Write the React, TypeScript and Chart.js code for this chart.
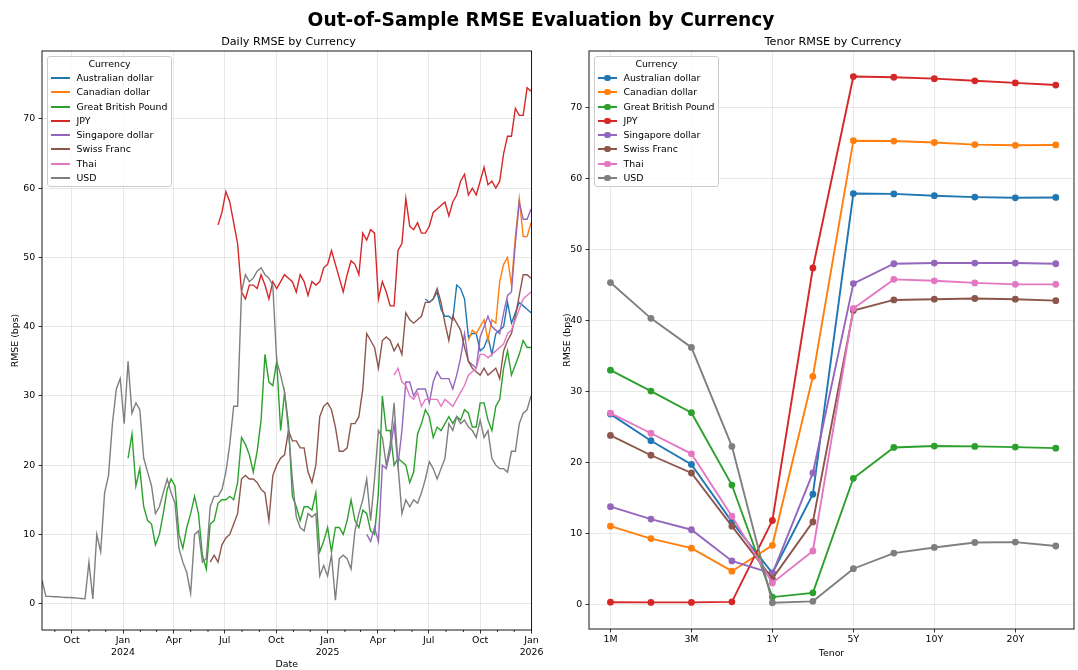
import React, { useEffect, useRef } from 'react';
import { Chart, registerables } from 'chart.js';

Chart.register(...registerables);

const FONT = '"DejaVu Sans", "Liberation Sans", sans-serif';

// ---------- shared ----------
const currencies = [
  'Australian dollar',
  'Canadian dollar',
  'Great British Pound',
  'JPY',
  'Singapore dollar',
  'Swiss Franc',
  'Thai',
  'USD',
];
const colors = ['#1f77b4', '#ff7f0e', '#2ca02c', '#d62728', '#9467bd', '#8c564b', '#e377c2', '#7f7f7f'];

// ---------- left panel: weekly samples of daily RMSE (bps) ----------
const weekStart = '2023-08-09'; // first sample, one sample every 7 days
const xStart = '2023-08-09';
const xEnd = '2026-01-01';
const quarterTicks = ['2023-10-01', '2024-01-01', '2024-04-01', '2024-07-01', '2024-10-01', '2025-01-01', '2025-04-01', '2025-07-01', '2025-10-01', '2026-01-01'];
const minorTicks = ['2023-09-01', '2023-11-01', '2023-12-01', '2024-02-01', '2024-03-01', '2024-05-01', '2024-06-01', '2024-08-01', '2024-09-01', '2024-11-01', '2024-12-01', '2025-02-01', '2025-03-01', '2025-05-01', '2025-06-01', '2025-08-01', '2025-09-01', '2025-11-01', '2025-12-01'];
const monthNames = ['Jan', 'Feb', 'Mar', 'Apr', 'May', 'Jun', 'Jul', 'Aug', 'Sep', 'Oct', 'Nov', 'Dec'];
const dailyYTicks = [0, 10, 20, 30, 40, 50, 60, 70];

const nulls = (n: number) => new Array(n).fill(null);

const audDaily = [...nulls(98),
  44, 43.5, 44, 45, 42.5, 41.5, 41.5, 41, 46, 45.5, 44, 38.5,
  39, 39, 36.5, 37, 38.5, 36, 39, 39.5, 40, 43.5,
  40.5, 42, 43.5, 43, 42.5, 42];
const cadDaily = [...nulls(109),
  38, 39.5, 39, 40, 41, 38, 41, 40.5, 46.5, 49, 50,
  46, 53, 58.5, 53, 53, 55];
const gbpDaily = [...nulls(22),
  21, 24.5, 17, 19.5, 14, 12, 11.5, 8.5,
  10, 13, 16.5, 18, 17, 10, 8, 11, 13, 15.5,
  13, 7, 5, 11.5, 12, 14.5, 15, 15, 15.5, 15,
  17.5, 24, 23, 21.5, 19, 22, 26.5, 36, 32, 31.5,
  35, 25, 30.5, 26, 15.5, 14, 12, 14, 14, 13.5,
  16, 7.5, 9, 11, 7.5, 11, 11, 10, 12, 15,
  12, 11, 13.5, 13, 10.5, 10, 16, 30, 25, 25,
  20, 21, 20.5, 20, 17.5, 19, 24.5, 26, 28, 27,
  24, 25.5, 25, 26, 27, 26, 27, 26.5, 28, 27.5,
  25.5, 25.5, 29, 29, 26.5, 25, 28.5, 29.5, 34, 36.5,
  33, 34.5, 36, 38, 37, 37];
const jpyDaily = [...nulls(45),
  54.7, 56.5, 59.5, 58, 55, 52, 45, 44, 46, 46, 45.5, 47.5, 46, 44, 46.5,
  45.5, 46.5, 47.5, 47, 46.5, 45, 47.5, 46.5, 44.5, 46.5,
  46, 46.5, 48.5, 49, 51, 49, 47, 45, 47.5, 49.5,
  49, 47.5, 53.5, 52.5, 54, 53.5, 44, 46.5, 45, 43,
  43, 51, 52, 58.5, 54.5, 54, 55, 53.5, 53.5, 54.5,
  56.5, 57, 57.5, 58, 56, 58, 59, 61, 62, 59,
  60, 59, 61, 63, 60.5, 61, 60, 61, 65, 67.5,
  67.5, 71.5, 70.5, 70.5, 74.5, 74];
const sgdDaily = [...nulls(83),
  10, 9, 11, 9, 20, 19.5, 22,
  26, 20, 25, 32, 32, 30, 31, 31, 31, 29,
  32, 33.5, 32.5, 32.5, 32.5, 31, 33, 35.5, 39, 35,
  34.5, 34, 38.5, 40, 41.5, 40, 39.5, 39, 42, 44.5,
  45, 52, 58, 55.5, 55.5, 57];
const chfDaily = [...nulls(43),
  6, 7, 6, 8.5, 9.5, 10, 11.5,
  13, 18, 18.5, 18, 18, 17.5, 16.5, 16, 12, 18.5,
  20, 21, 21.5, 25, 23.5, 23.5, 22.5, 22.5, 19, 17.5,
  20, 27, 28.5, 29, 28, 25.5, 22, 22, 22.5, 26,
  26, 27, 31, 39, 38, 37, 34, 38, 38.5, 38,
  36.5, 37.5, 36, 42, 41, 40.5, 41, 41.5, 43.5, 43.5,
  44, 45.5, 43.5, 40.5, 38, 41.5, 40.5, 39.5, 37, 35,
  34, 33.5, 33, 34, 33, 33.5, 34, 32.5, 36.5, 38,
  39, 41.5, 44.5, 47.5, 47.5, 47];
const thbDaily = [...nulls(90),
  33, 34, 32, 31.5, 30, 29.5, 30.5, 28.5, 29.5, 29.5,
  29.5, 29.5, 28.5, 29.5, 29, 28.5, 29.5, 30.5, 31.5, 33,
  33.5, 34, 36, 36, 35.5, 36, 36.5, 37, 37.5, 39,
  39.5, 41, 42.5, 44, 44.5, 45];
const usdDaily = [
  3.4, 1.05, 1.05, 1.0, 1.0, 0.95, 0.9, 0.9, 0.85, 0.8,
  0.75, 0.7, 6.0, 0.7, 10, 7.5, 16, 18.5, 26, 31,
  32.5, 26, 35, 27.5, 29, 28, 21, 19, 17, 13,
  14, 16, 18, 16, 14.5, 8, 6, 4.5, 1.5, 10,
  10.5, 6, 6.5, 14, 15.5, 15.5, 16.5, 19, 23, 28.5,
  28.5, 45, 47.5, 46.5, 47, 48, 48.5, 47.5, 47, 46,
  35, 33, 30.5, 25, 18, 12.5, 11, 10.5, 13, 12.5,
  13, 4, 5.5, 4, 7, 0.5, 6.5, 7, 6.5, 5,
  10.5, 13, 15, 18, 12, 18, 25, 24, 20, 23,
  29, 20, 13, 15, 14, 15, 14.5, 16, 18, 20.5,
  19.5, 18, 19.5, 21, 26, 25, 27, 26, 26.5, 25.5,
  25, 24, 26.5, 24, 25, 21, 20, 19.5, 19.5, 19,
  22, 22, 26, 27.5, 28, 30];

const dailySeries = [audDaily, cadDaily, gbpDaily, jpyDaily, sgdDaily, chfDaily, thbDaily, usdDaily];

// ---------- right panel: RMSE by tenor (bps) ----------
const tenors = ['1M', '2M', '3M', '6M', '1Y', '2Y', '5Y', '7Y', '10Y', '15Y', '20Y', '30Y'];
const tenorTickIdx = [0, 2, 4, 6, 8, 10];
const tenorYTicks = [0, 10, 20, 30, 40, 50, 60, 70];
const audTenor = [26.8, 23.05, 19.7, 11.6, 4.4, 15.5, 57.9, 57.85, 57.6, 57.4, 57.3, 57.35];
const cadTenor = [11.0, 9.25, 7.9, 4.65, 8.3, 32.1, 65.35, 65.3, 65.1, 64.8, 64.7, 64.75];
const gbpTenor = [33.0, 30.05, 27.0, 16.8, 1.0, 1.6, 17.75, 22.1, 22.3, 22.25, 22.15, 22.0];
const jpyTenor = [0.28, 0.25, 0.25, 0.33, 11.8, 47.4, 74.4, 74.3, 74.1, 73.8, 73.5, 73.2];
const sgdTenor = [13.75, 12.0, 10.5, 6.1, 4.3, 18.5, 45.2, 48.0, 48.1, 48.1, 48.1, 48.0];
const chfTenor = [23.8, 21.0, 18.5, 11.0, 3.6, 11.6, 41.4, 42.9, 43.0, 43.1, 43.0, 42.8];
const thbTenor = [26.95, 24.1, 21.2, 12.4, 3.0, 7.5, 41.7, 45.8, 45.6, 45.3, 45.1, 45.1];
const usdTenor = [45.35, 40.3, 36.2, 22.25, 0.2, 0.4, 5.0, 7.2, 8.0, 8.7, 8.75, 8.2];
const tenorSeries = [audTenor, cadTenor, gbpTenor, jpyTenor, sgdTenor, chfTenor, thbTenor, usdTenor];

// ---------- helpers ----------
const toDay = (s: string) => Date.UTC(+s.slice(0, 4), +s.slice(5, 7) - 1, +s.slice(8, 10)) / 86400000;
const quarterLabel = (s: string) => {
  const m = +s.slice(5, 7) - 1;
  return m === 0 ? [monthNames[m], s.slice(0, 4)] : monthNames[m];
};

const TICK_FONT = { family: FONT, size: 9.4, lineHeight: 1.27 };
const GRID = 'rgba(0,0,0,0.085)';
const INK = '#000';

const framePlugin = {
  id: 'frame',
  afterDatasetsDraw(chart: any) {
    const { ctx, chartArea: a } = chart;
    ctx.save();
    ctx.strokeStyle = INK;
    ctx.lineWidth = 0.9;
    ctx.strokeRect(a.left, a.top, a.right - a.left, a.bottom - a.top);
    ctx.restore();
  },
};

const minorTickPlugin = {
  id: 'minorTicks',
  afterDraw(chart: any) {
    const { ctx, chartArea: a } = chart;
    const xs = chart.scales.x;
    ctx.save();
    ctx.strokeStyle = INK;
    ctx.lineWidth = 0.8;
    minorTicks.forEach((d) => {
      const px = xs.getPixelForValue(toDay(d));
      ctx.beginPath();
      ctx.moveTo(px, a.bottom);
      ctx.lineTo(px, a.bottom + 2);
      ctx.stroke();
    });
    ctx.restore();
  },
};

function leftConfig(): any {
  const d0 = toDay(weekStart);
  return {
    type: 'line',
    data: {
      datasets: dailySeries.map((vals, i) => ({
        label: currencies[i],
        data: vals.map((v, k) => ({ x: d0 + 7 * k, y: v })),
        borderColor: colors[i],
        backgroundColor: colors[i],
        borderWidth: 1.4,
        pointRadius: 0,
        tension: 0,
        spanGaps: false,
        order: 7 - i,
      })),
    },
    options: {
      animation: false,
      responsive: false,
      devicePixelRatio: 1,
      layout: { padding: { left: 0, right: 10, top: 51, bottom: 0 } },
      plugins: { legend: { display: false }, tooltip: { enabled: false } },
      scales: {
        x: {
          type: 'linear',
          min: toDay(xStart),
          max: toDay(xEnd),
          afterBuildTicks: (s: any) => {
            s.ticks = quarterTicks.map((d) => ({ value: toDay(d) }));
          },
          afterFit: (s: any) => {
            s.height = 40;
          },
          ticks: {
            autoSkip: false,
            maxRotation: 0,
            padding: 1.5,
            color: INK,
            font: TICK_FONT,
            callback: (v: number) => {
              const d = quarterTicks.find((q) => toDay(q) === v);
              return d ? quarterLabel(d) : '';
            },
          },
          grid: { color: GRID, lineWidth: 1, tickColor: INK, tickLength: 3.5, tickWidth: 0.8 },
          border: { display: false },
          title: { display: true, text: 'Date', color: INK, font: { family: FONT, size: 9.4, lineHeight: 1.2 }, padding: { top: 0, bottom: 0 } },
        },
        y: {
          min: -3.8,
          max: 79.8,
          afterBuildTicks: (s: any) => {
            s.ticks = dailyYTicks.map((v) => ({ value: v }));
          },
          afterFit: (s: any) => {
            s.width = 42;
          },
          ticks: { padding: 3.2, color: INK, font: TICK_FONT },
          grid: { color: GRID, lineWidth: 1, tickColor: INK, tickLength: 3.5, tickWidth: 0.8 },
          border: { display: false },
          title: { display: true, text: 'RMSE (bps)', color: INK, font: { family: FONT, size: 9.4, lineHeight: 1.2 }, padding: { top: 9.5, bottom: 0 } },
        },
      },
    },
    plugins: [framePlugin, minorTickPlugin],
  };
}

function rightConfig(): any {
  return {
    type: 'line',
    data: {
      datasets: tenorSeries.map((vals, i) => ({
        label: currencies[i],
        data: vals.map((v, k) => ({ x: k, y: v })),
        borderColor: colors[i],
        backgroundColor: colors[i],
        pointBackgroundColor: colors[i],
        pointBorderColor: colors[i],
        borderWidth: 1.9,
        pointRadius: 3.4,
        pointBorderWidth: 0,
        tension: 0,
        order: 7 - i,
      })),
    },
    options: {
      animation: false,
      responsive: false,
      devicePixelRatio: 1,
      layout: { padding: { left: 0, right: 1, top: 51, bottom: 0 } },
      plugins: { legend: { display: false }, tooltip: { enabled: false } },
      scales: {
        x: {
          type: 'linear',
          min: -0.53,
          max: 11.45,
          afterBuildTicks: (s: any) => {
            s.ticks = tenorTickIdx.map((v) => ({ value: v }));
          },
          afterFit: (s: any) => {
            s.height = 41;
          },
          ticks: {
            autoSkip: false,
            maxRotation: 0,
            padding: 1.5,
            color: INK,
            font: TICK_FONT,
            callback: (v: number) => tenors[v] ?? '',
          },
          grid: { color: GRID, lineWidth: 1, tickColor: INK, tickLength: 3.5, tickWidth: 0.8 },
          border: { display: false },
          title: { display: true, text: 'Tenor', color: INK, font: { family: FONT, size: 9.4, lineHeight: 1.2 }, padding: { top: 0, bottom: 10.4 } },
        },
        y: {
          min: -3.5,
          max: 78.0,
          afterBuildTicks: (s: any) => {
            s.ticks = tenorYTicks.map((v) => ({ value: v }));
          },
          afterFit: (s: any) => {
            s.width = 44;
          },
          ticks: { padding: 3.2, color: INK, font: TICK_FONT },
          grid: { color: GRID, lineWidth: 1, tickColor: INK, tickLength: 3.5, tickWidth: 0.8 },
          border: { display: false },
          title: { display: true, text: 'RMSE (bps)', color: INK, font: { family: FONT, size: 9.4, lineHeight: 1.2 }, padding: { top: 17.4, bottom: 0 } },
        },
      },
    },
    plugins: [framePlugin],
  };
}

function Legend({ left, top, markers }: { left: number; top: number; markers: boolean }) {
  const rowH = 14.25;
  return (
    <div
      style={{
        position: 'absolute',
        left,
        top,
        width: 125,
        height: 131,
        boxSizing: 'border-box',
        border: '1px solid #cccccc',
        borderRadius: 3,
        background: 'rgba(255,255,255,0.8)',
        fontFamily: FONT,
        fontSize: 9.4,
        color: '#000',
      }}
    >
      <div style={{ position: 'absolute', left: 0, width: 123, top: 0, height: 14, lineHeight: '14px', textAlign: 'center' }}>Currency</div>
      {currencies.map((name, i) => {
        const cy = Math.round(21 + rowH * i);
        return (
          <div key={name}>
            <div
              style={{
                position: 'absolute',
                left: 3,
                top: cy - 1,
                width: 19,
                height: 2,
                background: colors[i],
              }}
            />
            {markers ? (
              <div
                style={{
                  position: 'absolute',
                  left: 12.5 - 3.4,
                  top: cy - 3.4,
                  width: 6.8,
                  height: 6.8,
                  borderRadius: '50%',
                  background: colors[i],
                }}
              />
            ) : null}
            <div style={{ position: 'absolute', left: 28.5, top: cy - 7, height: 14, lineHeight: '14px', whiteSpace: 'nowrap' }}>{name}</div>
          </div>
        );
      })}
    </div>
  );
}

export default function App() {
  const leftRef = useRef<HTMLCanvasElement>(null);
  const rightRef = useRef<HTMLCanvasElement>(null);

  useEffect(() => {
    const c1 = new Chart(leftRef.current as HTMLCanvasElement, leftConfig());
    const c2 = new Chart(rightRef.current as HTMLCanvasElement, rightConfig());
    return () => {
      c1.destroy();
      c2.destroy();
    };
  }, []);

  return (
    <div
      style={{
        position: 'absolute',
        left: 0,
        top: 0,
        width: 1078,
        height: 670,
        background: '#fff',
        overflow: 'hidden',
        fontFamily: FONT,
      }}
    >
      <canvas ref={leftRef} width={545} height={670} style={{ position: 'absolute', left: 0, top: 0, width: 545, height: 670 }} />
      <canvas ref={rightRef} width={533} height={670} style={{ position: 'absolute', left: 545, top: 0, width: 533, height: 670 }} />
      <div
        style={{
          position: 'absolute',
          left: 2,
          width: 1078,
          top: 9.2,
          height: 22,
          lineHeight: '22px',
          textAlign: 'center',
          fontWeight: 'bold',
          fontSize: 18.6,
          color: '#000',
        }}
      >
        Out-of-Sample RMSE Evaluation by Currency
      </div>
      <div style={{ position: 'absolute', left: 42, width: 493, top: 34.9, height: 13, lineHeight: '13px', textAlign: 'center', fontSize: 11.2, color: '#000' }}>
        Daily RMSE by Currency
      </div>
      <div style={{ position: 'absolute', left: 589, width: 488, top: 34.9, height: 13, lineHeight: '13px', textAlign: 'center', fontSize: 11.2, color: '#000' }}>
        Tenor RMSE by Currency
      </div>
      <Legend left={47} top={55.7} markers={false} />
      <Legend left={594} top={56} markers={true} />
    </div>
  );
}
